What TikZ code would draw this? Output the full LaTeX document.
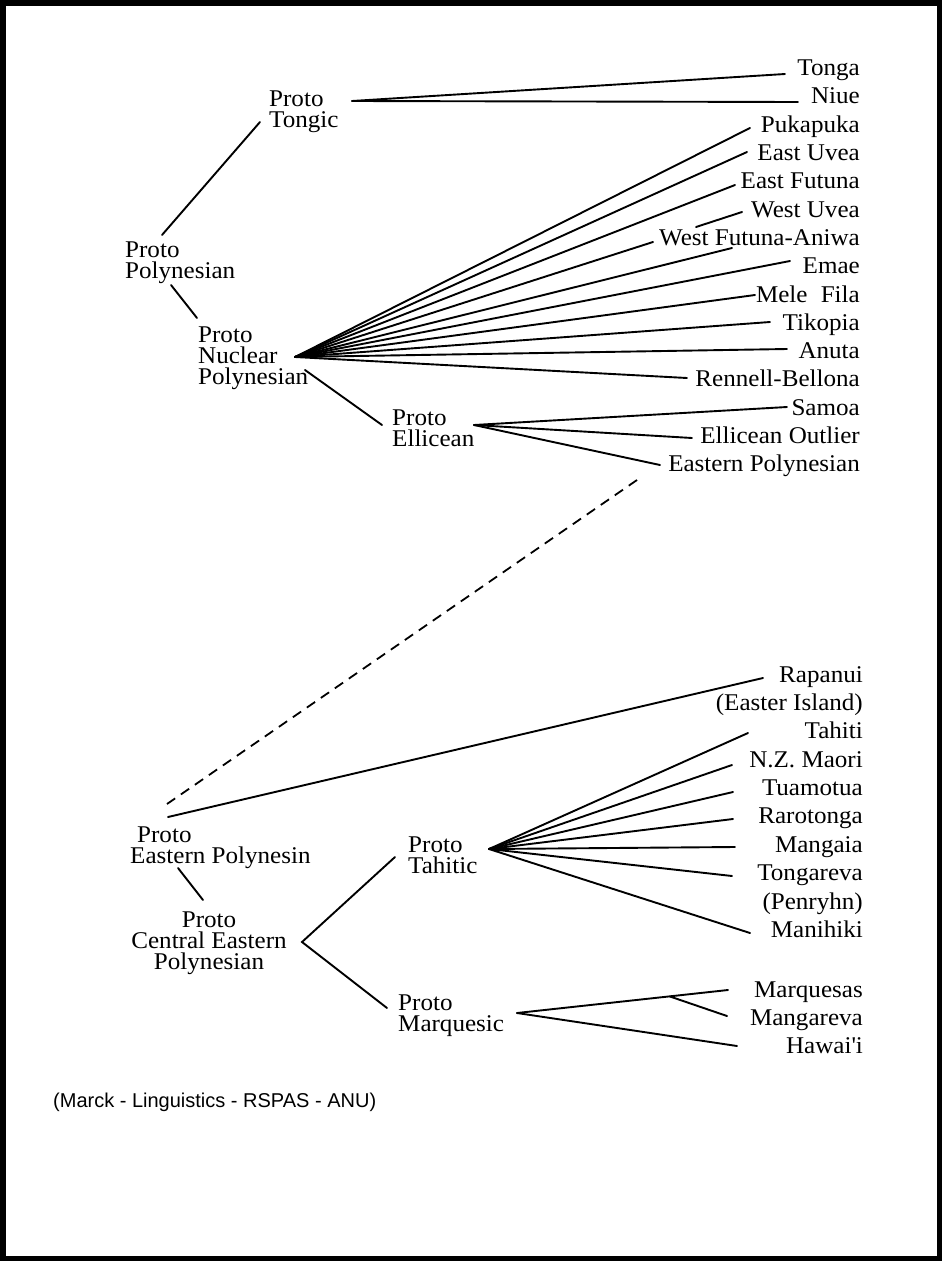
\documentclass[tikz,border=0pt]{standalone}
\usepackage{fontspec}
\setmainfont{Liberation Serif}[FakeStretch=1.045]
\newfontfamily\footfont{Liberation Sans}
\begin{document}
\begin{tikzpicture}[x=1pt,y=-1pt,
  lbl/.style={inner sep=0pt, font=\fontsize{24}{21}\selectfont},
  leaf/.style={lbl, anchor=base east},
  proto/.style={lbl, align=left, anchor=north west},
  br/.style={line width=1.9pt, line cap=round},
  dsh/.style={line width=1.8pt, dash pattern=on 10pt off 7pt}]
\useasboundingbox (0,0) rectangle (942,1261);
\draw[line width=5.5pt] (3,3) rectangle (939.5,1258.5);

% ---------- proto nodes ----------
\node[proto] (ptongic) at (269,90.2) {Proto\\Tongic};
\node[proto] (ppoly) at (125,241.2) {Proto\\Polynesian};
\node[proto] (pnuc) at (198,326.2) {Proto\\Nuclear\\Polynesian};
\node[proto] (pell) at (392,409.2) {Proto\\Ellicean};
\node[proto] (pep) at (130,826.2) {\hspace{7pt}Proto\\Eastern Polynesin};
\node[lbl, align=center, anchor=north] (pcep) at (209,911.2) {Proto\\Central Eastern\\Polynesian};
\node[proto] (ptah) at (408,836.2) {Proto\\Tahitic};
\node[proto] (pmar) at (398,994.2) {Proto\\Marquesic};

% ---------- leaf labels (top) ----------
\node[leaf] (tonga) at (860,75) {Tonga};
\node[leaf] (niue) at (860,103) {Niue};
\node[leaf] (pukapuka) at (860,132) {Pukapuka};
\node[leaf] (eastuvea) at (860,160) {East Uvea};
\node[leaf] (eastfutuna) at (860,188) {East Futuna};
\node[leaf] (westuvea) at (860,217) {West Uvea};
\node[leaf] (westfutuna) at (860,245) {West Futuna-Aniwa};
\node[leaf] (emae) at (860,273) {Emae};
\node[leaf] (melefila) at (860,302) {Mele\hspace{0.55em}Fila};
\node[leaf] (tikopia) at (860,330) {Tikopia};
\node[leaf] (anuta) at (860,358) {Anuta};
\node[leaf] (rennell) at (860,386) {Rennell-Bellona};
\node[leaf] (samoa) at (860,415) {Samoa};
\node[leaf] (outlier) at (860,443) {Ellicean Outlier};
\node[leaf] (eastpoly) at (860,471) {Eastern Polynesian};

% ---------- leaf labels (bottom) ----------
\node[leaf] (rapanui) at (863,682) {Rapanui};
\node[leaf] (easterisl) at (863,710) {(Easter Island)};
\node[leaf] (tahiti) at (863,738) {Tahiti};
\node[leaf] (nzmaori) at (863,767) {N.Z. Maori};
\node[leaf] (tuamotua) at (863,795) {Tuamotua};
\node[leaf] (rarotonga) at (863,823) {Rarotonga};
\node[leaf] (mangaia) at (863,852) {Mangaia};
\node[leaf] (tongareva) at (863,880) {Tongareva};
\node[leaf] (penryhn) at (863,909) {(Penryhn)};
\node[leaf] (manihiki) at (863,937) {Manihiki};
\node[leaf] (marquesas) at (863,997) {Marquesas};
\node[leaf] (mangareva) at (863,1025) {Mangareva};
\node[leaf] (hawaii) at (863,1053) {Hawai\textquotesingle i};

\node[inner sep=0pt, anchor=base west, font=\footfont\fontsize{20}{22}\selectfont] (credit) at (53,1107) {(Marck - Linguistics - RSPAS - ANU)};

% ---------- connector end points ----------
\coordinate (tongicpt) at (352,101);
\coordinate (e-tonga) at (785,74);
\coordinate (e-niue) at (798,102);
\coordinate (polyA) at (162,235);
\coordinate (tongicA) at (260,122);
\coordinate (polyB) at (171,285);
\coordinate (nucA) at (197,318);
\coordinate (nucpt) at (295,357);
\coordinate (e-pukapuka) at (750,128);
\coordinate (e-eastuvea) at (747,152);
\coordinate (e-eastfutuna) at (735,185);
\coordinate (e-westfutuna) at (653,242);
\coordinate (e-under) at (732,248);
\coordinate (e-emae) at (790,261);
\coordinate (e-melefila) at (755,295);
\coordinate (e-tikopia) at (770,322);
\coordinate (e-anuta) at (787,349);
\coordinate (e-rennell) at (687,378);
\coordinate (wuA) at (696,227);
\coordinate (e-westuvea) at (742,212);
\coordinate (nucB) at (305,370);
\coordinate (ellA) at (382,425);
\coordinate (ellpt) at (474,425);
\coordinate (e-samoa) at (787,407);
\coordinate (e-outlier) at (692,438);
\coordinate (e-eastpoly) at (660,465);
\coordinate (dashA) at (637,480);
\coordinate (dashB) at (167,804);
\coordinate (epB) at (168,817);
\coordinate (e-rapanui) at (763,678);
\coordinate (epA) at (178,868);
\coordinate (cepA) at (203,900);
\coordinate (cept) at (302,942);
\coordinate (tahA) at (395,857);
\coordinate (marA) at (387,1008);
\coordinate (tahpt) at (489,849);
\coordinate (e-tahiti) at (748,733);
\coordinate (e-nzmaori) at (732,765);
\coordinate (e-tuamotua) at (733,792);
\coordinate (e-rarotonga) at (733,819);
\coordinate (e-mangaia) at (735,847);
\coordinate (e-tongareva) at (732,876);
\coordinate (e-manihiki) at (750,933);
\coordinate (marpt) at (517,1013);
\coordinate (e-marquesas) at (728,990);
\coordinate (mgbr) at (670,996.5);
\coordinate (e-mangareva) at (727,1016);
\coordinate (e-hawaii) at (737,1046);

% ---------- connectors ----------
\draw[br] (tongicpt) -- (e-tonga);
\draw[br] (tongicpt) -- (e-niue);
\draw[br] (polyA) -- (tongicA);
\draw[br] (polyB) -- (nucA);
\foreach \e in {pukapuka,eastuvea,eastfutuna,westfutuna,under,emae,melefila,tikopia,anuta,rennell}
  \draw[br] (nucpt) -- (e-\e);
\draw[br] (wuA) -- (e-westuvea);
\draw[br] (nucB) -- (ellA);
\foreach \e in {samoa,outlier,eastpoly}
  \draw[br] (ellpt) -- (e-\e);
\draw[dsh] (dashA) -- (dashB);
\draw[br] (epB) -- (e-rapanui);
\draw[br] (epA) -- (cepA);
\draw[br] (tahA) -- (cept) -- (marA);
\foreach \e in {tahiti,nzmaori,tuamotua,rarotonga,mangaia,tongareva,manihiki}
  \draw[br] (tahpt) -- (e-\e);
\draw[br] (marpt) -- (e-marquesas);
\draw[br] (mgbr) -- (e-mangareva);
\draw[br] (marpt) -- (e-hawaii);
\end{tikzpicture}
\end{document}
